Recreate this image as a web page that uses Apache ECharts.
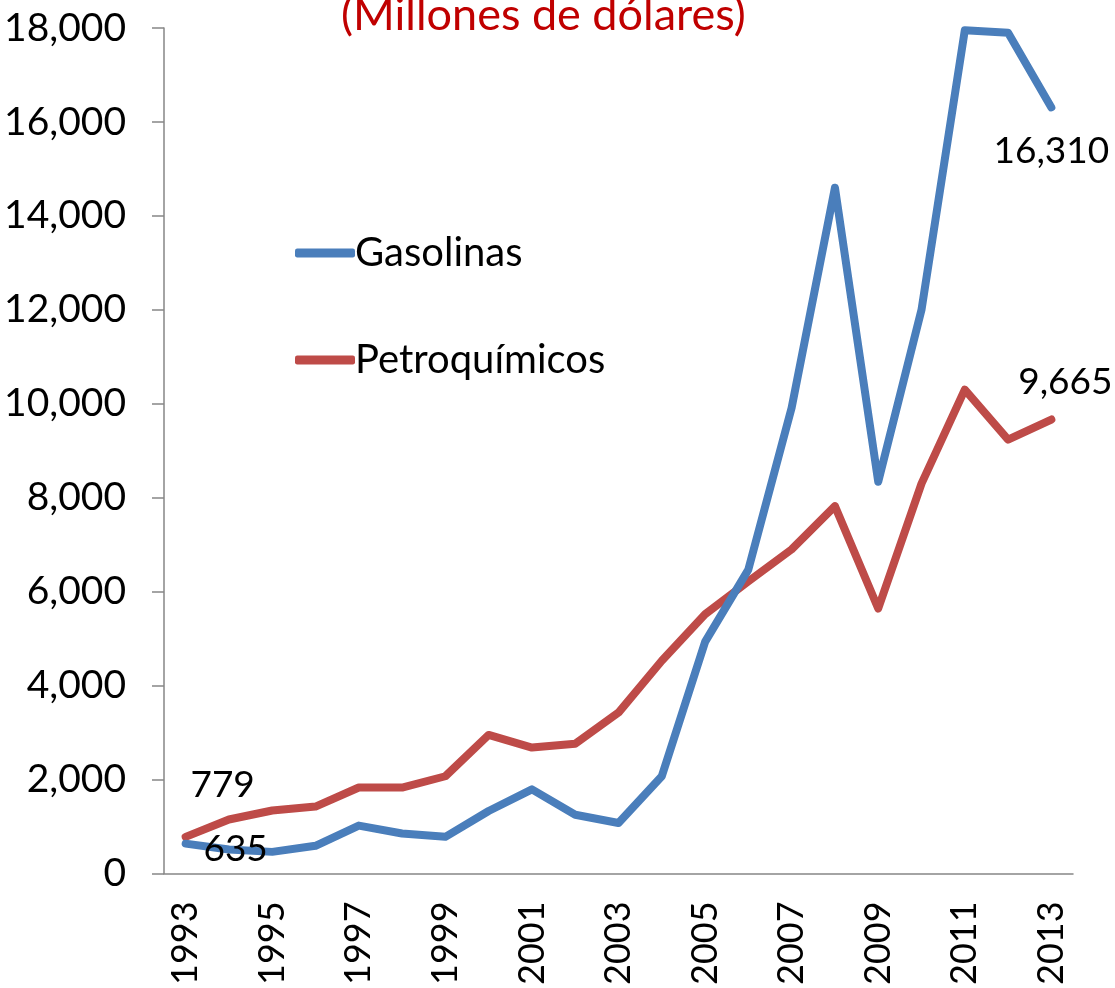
<!DOCTYPE html>
<html>
<head>
<meta charset="utf-8">
<script src="https://cdn.jsdelivr.net/npm/echarts@6/dist/echarts.min.js"></script>
<style>
  html, body { margin: 0; padding: 0; background: #fff; }
  #chart { width: 1115px; height: 988px; }
</style>
</head>
<body>
<div id="chart"></div>
<script>
var years = ['1993', '1994', '1995', '1996', '1997', '1998', '1999', '2000', '2001', '2002', '2003',
  '2004', '2005', '2006', '2007', '2008', '2009', '2010', '2011', '2012', '2013'];
var gasolinas = [635, 510, 460, 590, 1020, 850, 780, 1330, 1790, 1250, 1075,
  2070, 4930, 6470, 9915, 14600, 8340, 12000, 17950, 17900, 16310];
var petroquimicos = [779, 1150, 1340, 1425, 1830, 1830, 2070, 2950, 2680, 2760, 3425,
  4530, 5520, 6220, 6900, 7820, 5640, 8300, 10300, 9235, 9665];
var titleText = '(Millones de dólares)';

var font = 'Lato';
var fsize = 37;

// etiqueta solo en el primer y el último punto
function withLabels(values, first, last) {
  return values.map(function (v, i) {
    if (i === 0) return { value: v, label: { show: true, position: 'inside', offset: first } };
    if (i === values.length - 1) return { value: v, label: { show: true, position: 'inside', offset: last } };
    return v;
  });
}

var chart = echarts.init(document.getElementById('chart'));
chart.setOption({
  animation: false,
  textStyle: { fontFamily: font },
  title: {
    text: titleText,
    left: 336,
    top: -12,
    textStyle: { color: '#C00000', fontSize: 45, fontWeight: 'normal', fontFamily: font }
  },
  legend: {
    orient: 'vertical',
    left: 290,
    top: 228,
    itemGap: 67,
    itemWidth: 60,
    itemHeight: 9,
    icon: 'roundRect',
    textStyle: { fontSize: 40, color: '#000', fontFamily: font, padding: [0, 0, 0, -5] },
    data: ['Gasolinas', 'Petroquímicos']
  },
  grid: { left: 164, right: 42, top: 28, bottom: 114, containLabel: false },
  xAxis: {
    type: 'category',
    data: years,
    boundaryGap: true,
    axisLine: { lineStyle: { color: '#868686', width: 1.5 } },
    axisTick: { interval: 0, length: 13, lineStyle: { color: '#868686', width: 1.5 } },
    axisLabel: { interval: 1, rotate: 90, margin: 28, fontSize: 36, color: '#000', fontFamily: font }
  },
  yAxis: {
    type: 'value',
    min: 0,
    max: 18000,
    interval: 2000,
    axisLine: { show: true, lineStyle: { color: '#868686', width: 1.5 } },
    axisTick: { show: true, length: 12, lineStyle: { color: '#868686', width: 1.5 } },
    splitLine: { show: false },
    axisLabel: {
      margin: 38, fontSize: 39, color: '#000', fontFamily: font,
      formatter: function (v) { return v.toLocaleString('en-US'); }
    }
  },
  series: [
    {
      name: 'Gasolinas',
      type: 'line',
      data: withLabels(gasolinas, [50, 5], [0, 44]),
      symbol: 'circle',
      symbolSize: 1,
      lineStyle: { color: '#4A7EBB', width: 8, cap: 'round', join: 'round' },
      itemStyle: { color: '#4A7EBB' },
      label: {
        show: false, fontSize: fsize, color: '#000', fontFamily: font,
        formatter: function (p) { return p.value.toLocaleString('en-US'); }
      },
      z: 3
    },
    {
      name: 'Petroquímicos',
      type: 'line',
      data: withLabels(petroquimicos, [37, -52], [14, -37]),
      symbol: 'circle',
      symbolSize: 1,
      lineStyle: { color: '#BE4B48', width: 8, cap: 'round', join: 'round' },
      itemStyle: { color: '#BE4B48' },
      label: {
        show: false, fontSize: fsize, color: '#000', fontFamily: font,
        formatter: function (p) { return p.value.toLocaleString('en-US'); }
      },
      z: 2
    }
  ]
});
</script>
</body>
</html>
